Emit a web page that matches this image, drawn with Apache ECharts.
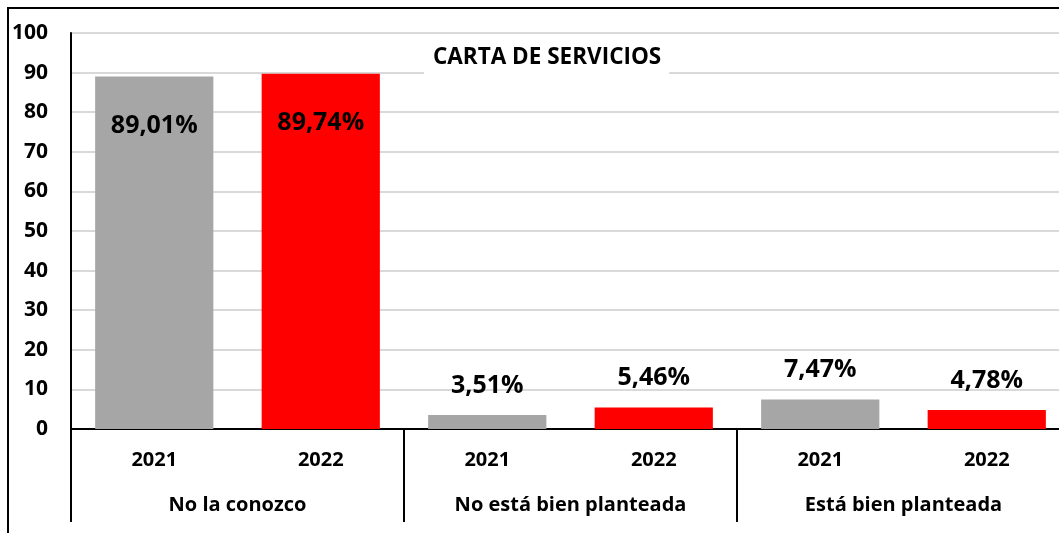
<!DOCTYPE html>
<html>
<head>
<meta charset="utf-8">
<script src="https://cdn.jsdelivr.net/npm/echarts@6/dist/echarts.min.js"></script>
<style>
  html, body { margin: 0; padding: 0; background: #fff; }
  #chart { width: 1059px; height: 533px; }
</style>
</head>
<body>
<div id="chart"></div>
<script>
  const years = ['2021', '2022', '2021', '2022', '2021', '2022']
  const groups = ['No la conozco', 'No está bien planteada', 'Está bien planteada']
  const values = [89.01, 89.74, 3.51, 5.46, 7.47, 4.78]
  const colors = ['#a6a6a6', '#ff0000', '#a6a6a6', '#ff0000', '#a6a6a6', '#ff0000']
  const labelInside = [true, true, false, false, false, false]

  const font = '"Open Sans", sans-serif'

  const chart = echarts.init(document.getElementById('chart'))
  chart.setOption({
    animation: false,
    backgroundColor: '#fff',
    title: {
      text: 'CARTA DE SERVICIOS',
      left: 424,
      top: 42,
      backgroundColor: '#fff',
      padding: [4, 8, 6, 9],
      textStyle: { fontFamily: font, fontWeight: 'bold', fontSize: 22.5, color: '#000' }
    },
    graphic: [{
      type: 'rect',
      shape: { x: 8, y: 8, width: 1200, height: 560 },
      style: { fill: 'none', stroke: '#000', lineWidth: 2 },
      silent: true
    }],
    grid: { left: 71, width: 999, top: 33, bottom: 104, outerBoundsMode: 'none' },
    xAxis: [{
      type: 'category',
      data: years,
      position: 'bottom',
      axisLine: { lineStyle: { color: '#000', width: 2 } },
      axisTick: { show: false },
      axisLabel: { margin: 21, fontFamily: font, fontWeight: 'bold', fontSize: 20, color: '#000' }
    }, {
      type: 'category',
      data: groups,
      position: 'bottom',
      axisLine: { show: false },
      axisTick: { show: true, length: 93, lineStyle: { color: '#000', width: 2 } },
      axisLabel: { margin: 66, fontFamily: font, fontWeight: 'bold', fontSize: 20, color: '#000' }
    }],
    yAxis: {
      type: 'value',
      min: 0,
      max: 100,
      interval: 10,
      axisLine: { show: true, lineStyle: { color: '#000', width: 2 } },
      axisTick: { show: false },
      axisLabel: { margin: 23, fontFamily: font, fontWeight: 'bold', fontSize: 21, color: '#000' },
      splitLine: { lineStyle: { color: '#d9d9d9', width: 2 } }
    },
    series: [{
      type: 'bar',
      xAxisIndex: 0,
      barWidth: '71%',
      data: values.map((v, i) => ({
        value: v,
        itemStyle: { color: colors[i] },
        label: labelInside[i]
          ? { position: 'insideTop', distance: 37 }
          : { position: 'top', distance: 17 }
      })),
      label: {
        show: true,
        fontFamily: font,
        fontWeight: 'bold',
        fontSize: 25,
        color: '#000',
        formatter: p => p.value.toFixed(2).replace('.', ',') + '%'
      }
    }]
  })
</script>
</body>
</html>
